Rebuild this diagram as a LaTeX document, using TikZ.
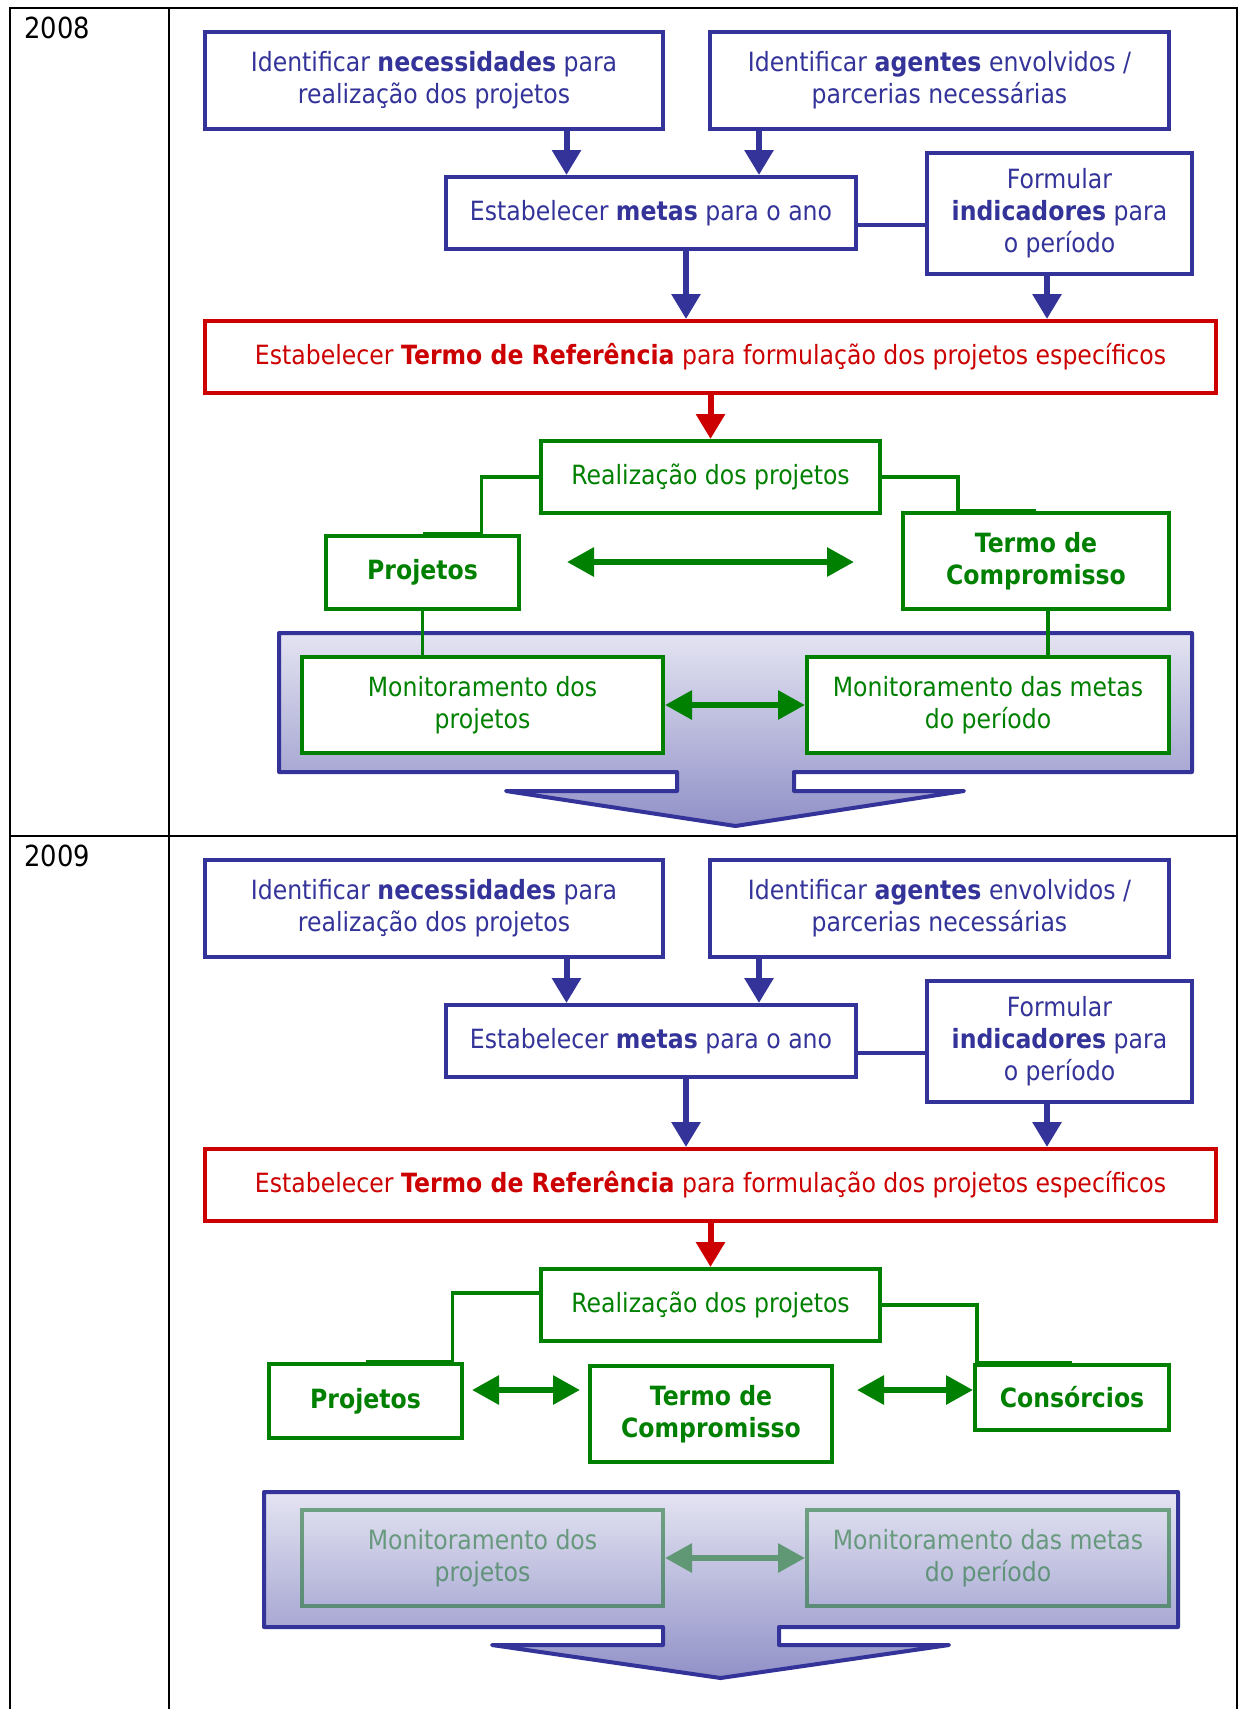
\documentclass[tikz,border=0pt]{standalone}
\usepackage{fontspec}
\setmainfont{DejaVu Sans}[FakeStretch=0.89]
\usetikzlibrary{arrows.meta}
\definecolor{pBlue}{RGB}{51,51,153}
\definecolor{pRed}{RGB}{204,0,0}
\definecolor{pGreen}{RGB}{0,128,0}
\definecolor{fGreen}{RGB}{20,110,40}
\definecolor{fArrow}{RGB}{96,152,118}
\definecolor{panTop}{RGB}{228,228,242}
\definecolor{panBot}{RGB}{145,145,200}

\begin{document}
\begin{tikzpicture}[x=0.5pt,y=-0.5pt,
  every node/.style={font=\fontsize{13.25}{16}\selectfont, align=center, inner sep=0pt},
  bbox/.style={draw=pBlue, text=pBlue, line width=2pt},
  rbox/.style={draw=pRed, text=pRed, line width=2pt},
  gbox/.style={draw=pGreen, text=pGreen, line width=2pt, fill=white},
  fbox/.style={draw=fGreen, text=fGreen, line width=2pt, draw opacity=0.55, text opacity=0.55},
  blink/.style={draw=pBlue, line width=1.75pt},
  glink/.style={draw=pGreen, line width=1.75pt},
  barrow/.style={draw=pBlue, line width=3pt, -{Triangle[width=14pt,length=12.5pt]}},
  rarrow/.style={draw=pRed, line width=3pt, -{Triangle[width=14pt,length=12.5pt]}},
  garrow/.style={draw=pGreen, line width=3pt, {Triangle[width=14pt,length=13.5pt]}-{Triangle[width=14pt,length=13.5pt]}},
  farrow/.style={garrow, draw=fArrow},
  panel/.style={draw=pBlue, line width=2pt, line join=round, top color=panTop, bottom color=panBot}]
\useasboundingbox (0,0) rectangle (1239,1709);
\draw[line width=1pt] (10,1720) -- (10,8) -- (1237,8) -- (1237,1720);
\draw[line width=1.2pt] (169,8) -- (169,1720);
\draw[line width=1pt] (10,836) -- (1237,836);
\foreach \yr/\dy in {2008/0,2009/828} {
  \node[anchor=west, font=\fontsize{14.5}{17}\selectfont] (Y\yr) at (24,28+\dy) {\yr};
  \node[bbox, minimum width=229pt, minimum height=48.5pt] (A\yr) at (434,80.5+\dy) {Identificar \textbf{necessidades} para\\realização dos projetos};
  \node[bbox, minimum width=229.5pt, minimum height=48.5pt] (C\yr) at (939.5,80.5+\dy) {Identificar \textbf{agentes} envolvidos /\\parcerias necessárias};
  \node[bbox, minimum width=205pt, minimum height=36pt] (B\yr) at (651,213+\dy) {Estabelecer \textbf{metas} para o ano};
  \node[bbox, minimum width=132.5pt, minimum height=60.5pt] (D\yr) at (1059.5,213.5+\dy) {Formular\\\textbf{indicadores} para\\o período};
  \node[rbox, minimum width=505.5pt, minimum height=36pt] (T\yr) at (710.5,357+\dy) {Estabelecer \textbf{Termo de Referência} para formulação dos projetos específicos};
  \node[gbox, minimum width=169.5pt, minimum height=36pt] (R\yr) at (710.5,477+\dy) {Realização dos projetos};
  \draw[barrow] (566.5,0 |- A\yr.south) -- (566.5,0 |- B\yr.north);
  \draw[barrow] (759,0 |- C\yr.south) -- (759,0 |- B\yr.north);
  \draw[blink] ([yshift=-6pt]B\yr.east) -- ([yshift=-6pt]B\yr.east -| D\yr.west);
  \draw[barrow] (686,0 |- B\yr.south) -- (686,0 |- T\yr.north);
  \draw[barrow] (1047,0 |- D\yr.south) -- (1047,0 |- T\yr.north);
  \draw[rarrow] (T\yr.south) -- (R\yr.north);
}
\node[gbox, minimum width=96.5pt, minimum height=36.5pt] (P08) at (422.5,572.5) {\textbf{Projetos}};
\node[gbox, minimum width=133pt, minimum height=48pt] (K08) at (1036,561) {\textbf{Termo de}\\\textbf{Compromisso}};
\draw[glink] (R2008.west) -| (481.5,534) -- (P08.north |- 0,534);
\draw[glink] (R2008.east) -| (958,511) -- (K08.north |- 0,511);
\coordinate (H08a) at (567,562);
\coordinate (H08b) at (854,562);
\draw[garrow] (H08a) -- (H08b);
\shade[panel] (279,633) -- (1192,633) -- (1192,772) -- (794,772) -- (794,791) -- (964,791) -- (735.5,826) -- (506,791) -- (677,791) -- (677,772) -- (279,772) -- cycle;
\node[gbox, minimum width=180.5pt, minimum height=48pt] (M08a) at (482.5,705) {Monitoramento dos\\projetos};
\node[gbox, minimum width=181pt, minimum height=48pt] (M08b) at (988,705) {Monitoramento das metas\\do período};
\draw[garrow] (M08a.east) -- (M08b.west);
\draw[glink] (P08.south) -- (P08.south |- M08a.north);
\draw[glink] (1048,0 |- K08.south) -- (1048,0 |- M08b.north);
\node[gbox, minimum width=96.5pt, minimum height=37pt] (P09) at (365.5,1401) {\textbf{Projetos}};
\node[gbox, minimum width=121pt, minimum height=48pt] (K09) at (711,1414) {\textbf{Termo de}\\\textbf{Compromisso}};
\node[gbox, minimum width=97pt, minimum height=32.5pt] (S09) at (1072,1397.5) {\textbf{Consórcios}};
\draw[glink] ([yshift=6pt]R2009.west) -| (452.5,1362) -- (P09.north |- 0,1362);
\draw[glink] (R2009.east) -| (977,1363) -- (S09.north |- 0,1363);
\coordinate (H09a) at (472,1390);
\coordinate (H09b) at (580,1390);
\coordinate (H09c) at (857,1390);
\draw[garrow] (H09a) -- (H09b);
\draw[garrow] (H09c) -- (S09.west |- H09c);
\shade[panel] (264,1492) -- (1178,1492) -- (1178,1627) -- (779,1627) -- (779,1645) -- (949,1645) -- (720.5,1678) -- (492,1645) -- (663,1645) -- (663,1627) -- (264,1627) -- cycle;
\node[fbox, minimum width=180.5pt, minimum height=48pt] (M09a) at (482.5,1558) {Monitoramento dos\\projetos};
\node[fbox, minimum width=181pt, minimum height=48pt] (M09b) at (988,1558) {Monitoramento das metas\\do período};
\draw[farrow] (M09a.east) -- (M09b.west);
\end{tikzpicture}
\end{document}
